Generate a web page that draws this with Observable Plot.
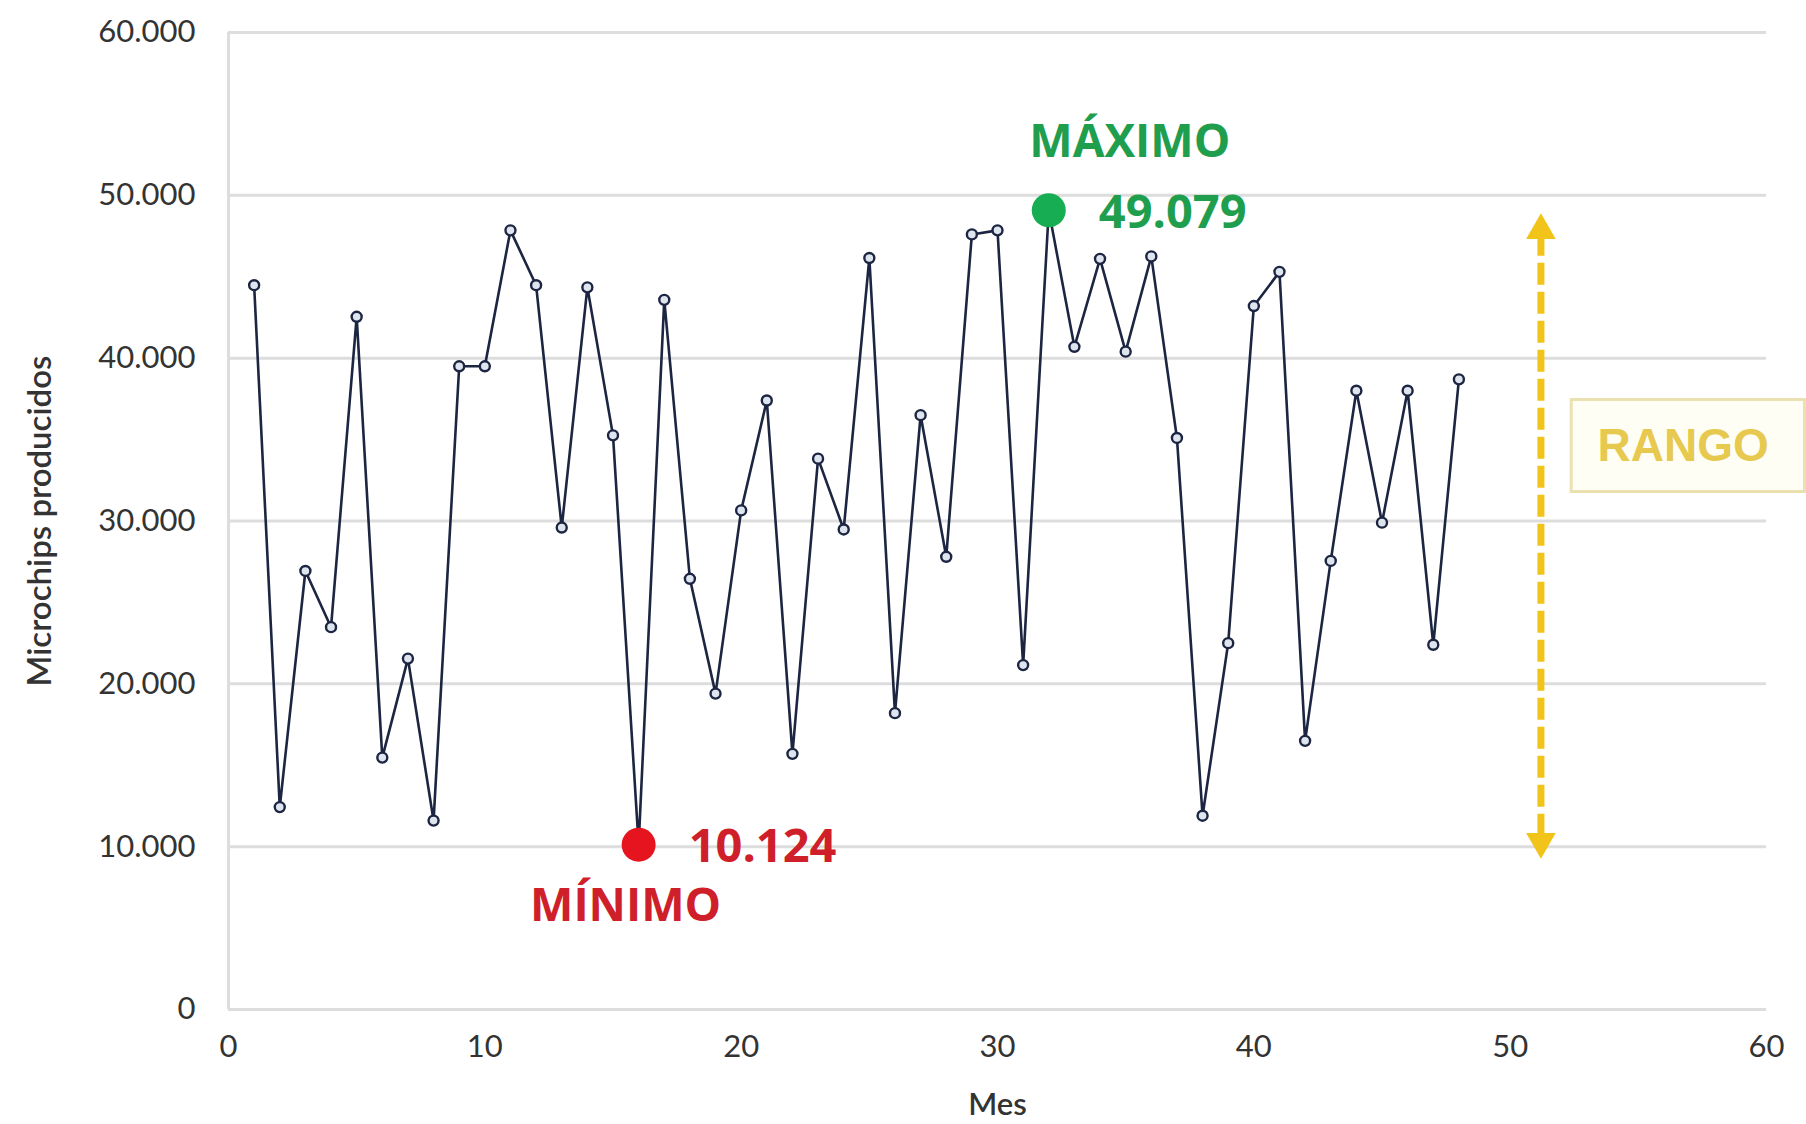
<!DOCTYPE html>
<html lang="es">
<head>
<meta charset="utf-8">
<script src="https://cdn.jsdelivr.net/npm/d3@7"></script>
<script src="https://cdn.jsdelivr.net/npm/@observablehq/plot@0.6"></script>
<style>
  html, body { margin: 0; padding: 0; background: #ffffff; }
  #chart { width: 1806px; height: 1124px; }
</style>
</head>
<body>
<div id="chart"></div>
<script>
// Microchips producidos por mes
const meses = [1, 2, 3, 4, 5, 6, 7, 8, 9, 10, 11, 12, 13, 14, 15, 16, 17, 18, 19, 20, 21, 22, 23, 24,
               25, 26, 27, 28, 29, 30, 31, 32, 33, 34, 35, 36, 37, 38, 39, 40, 41, 42, 43, 44, 45, 46, 47, 48];
const produccion = [44480, 12430, 26930, 23480, 42540, 15470, 21550, 11600, 39500, 39500, 47850, 44480,
                    29600, 44350, 35260, 10124, 43580, 26450, 19400, 30650, 37400, 15700, 33830, 29480,
                    46150, 18200, 36500, 27800, 47600, 47850, 21150, 49079, 40700, 46100, 40400, 46250,
                    35100, 11900, 22500, 43200, 45300, 16500, 27550, 38000, 29900, 38000, 22400, 38700];
const ticksY = [0, 10000, 20000, 30000, 40000, 50000, 60000];
const ticksX = [0, 10, 20, 30, 40, 50, 60];

const data = meses.map((m, i) => ({mes: m, valor: produccion[i]}));

// Formato con punto como separador de miles
const es = d3.formatLocale({decimal: ",", thousands: ".", grouping: [3], currency: ["", "€"]});
const fmt = es.format(",");

const iMax = d3.maxIndex(produccion);
const iMin = d3.minIndex(produccion);
const maximo = data[iMax];
const minimo = data[iMin];

// Posición de la flecha de rango y de su etiqueta
const rangoX = 51.2;
const cajaRango = {x1: 52.4, x2: 61.5, y1: 31780, y2: 37430};
const textoRango = {x: 56.75, y: 34600};

const navy = "#1c2541";
const grid = "#dddddd";
const verde = "#1f9e4e";
const rojo = "#cf1f2a";
const amarillo = "#f2c318";
const tinta = "#333333";
const fontAxis = "Lato, 'Open Sans', sans-serif";
const fontNote = "'Open Sans', Lato, sans-serif";

const chart = Plot.plot({
  width: 1806,
  height: 1124,
  marginLeft: 228,
  marginRight: 40,
  marginTop: 32,
  marginBottom: 115,
  style: {background: "#ffffff", fontFamily: fontAxis},
  x: {domain: [0, 60], label: null},
  y: {domain: [0, 60000], label: null},
  marks: [
    Plot.gridY(ticksY, {stroke: grid, strokeWidth: 3, strokeOpacity: 1}),
    Plot.ruleX([0], {stroke: grid, strokeWidth: 3}),
    Plot.axisY(ticksY, {tickSize: 0, tickPadding: 33, fontSize: 31, fill: tinta, tickFormat: fmt, label: null}),
    Plot.axisX(ticksX, {tickSize: 0, tickPadding: 25, fontSize: 31, fill: tinta, label: null}),
    Plot.text(["Microchips producidos"], {frameAnchor: "left", textAnchor: "middle", rotate: -90, dx: -188,
      fontSize: 33, fill: tinta, fontWeight: 600}),
    Plot.text(["Mes"], {frameAnchor: "bottom", dy: 105, fontSize: 31, fill: tinta, fontWeight: 600}),

    // Serie mensual
    Plot.line(data, {x: "mes", y: "valor", stroke: navy, strokeWidth: 2.6}),
    Plot.dot(data, {x: "mes", y: "valor", r: 5, stroke: navy, strokeWidth: 2.4, fill: "#dfe5ef"}),

    // Flecha de rango (del máximo al mínimo), discontinua y con dos puntas
    Plot.ruleX([{x: rangoX, y1: maximo.valor, y2: minimo.valor}], {
      x: "x", y1: "y1", y2: "y2", stroke: amarillo, strokeWidth: 7, strokeDasharray: "22,7",
      insetTop: 24, insetBottom: 10
    }),
    Plot.dot([{x: rangoX, y: maximo.valor}], {x: "x", y: "y", symbol: "triangle", r: 11, fill: amarillo, dy: 20}),
    Plot.dot([{x: rangoX, y: minimo.valor}], {x: "x", y: "y", symbol: "triangle", r: 11, fill: amarillo, rotate: 180, dy: -3}),
    Plot.rect([cajaRango], {x1: "x1", x2: "x2", y1: "y1", y2: "y2", fill: "#fffef4", stroke: "#ebe1b0", strokeWidth: 3}),
    Plot.text([textoRango], {x: "x", y: "y", text: () => "RANGO", fontSize: 46, fontWeight: 700,
      fontFamily: "'Liberation Sans', Arial, sans-serif", fill: "#e6c94e"}),

    // Máximo
    Plot.dot([maximo], {x: "mes", y: "valor", r: 17, fill: "#17ad52"}),
    Plot.text([maximo], {x: "mes", y: "valor", text: d => fmt(d.valor), textAnchor: "start", dx: 50, dy: 3,
      fontSize: 47, fontWeight: 700, fontFamily: fontNote, fill: verde}),
    Plot.text([maximo], {x: "mes", y: "valor", text: () => "MÁXIMO", dx: 81, dy: -68,
      fontSize: 46, fontWeight: 700, fontFamily: fontNote, fill: verde}),

    // Mínimo
    Plot.dot([minimo], {x: "mes", y: "valor", r: 17, fill: "#e5141f"}),
    Plot.text([minimo], {x: "mes", y: "valor", text: d => fmt(d.valor), textAnchor: "start", dx: 50, dy: 2,
      fontSize: 47, fontWeight: 700, fontFamily: fontNote, fill: rojo}),
    Plot.text([minimo], {x: "mes", y: "valor", text: () => "MÍNIMO", dx: -13, dy: 62,
      fontSize: 46, fontWeight: 700, fontFamily: fontNote, fill: rojo})
  ]
});

document.getElementById("chart").append(chart);
</script>
</body>
</html>
